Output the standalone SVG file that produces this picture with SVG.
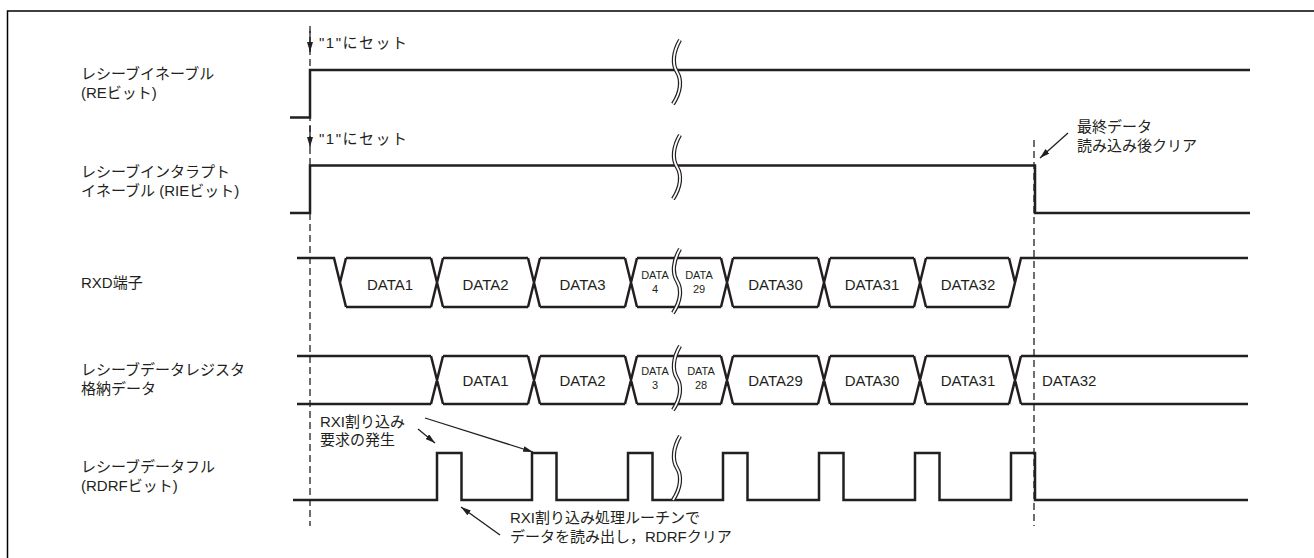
<svg xmlns="http://www.w3.org/2000/svg" width="1314" height="558" viewBox="0 0 1314 558">
<style>
text{font-family:"Liberation Sans","Noto Sans CJK JP",sans-serif;font-size:15px;fill:#231f20}
.sm{font-size:11px}
.mid{text-anchor:middle}
.ls{letter-spacing:1.5px}
.sig{fill:none;stroke:#231f20;stroke-width:2.5;stroke-linejoin:miter}
.dash{fill:none;stroke:#231f20;stroke-width:1.3;stroke-dasharray:7 4}
.arr{fill:none;stroke:#231f20;stroke-width:1.3;marker-end:url(#ah)}
.brk{fill:none;stroke:#231f20;stroke-width:4.2}
.brkw{fill:none;stroke:#fff;stroke-width:1.8}
</style>
<defs>
<marker id="ah" viewBox="0 0 10 6" refX="10" refY="3" markerWidth="10" markerHeight="6" orient="auto" markerUnits="userSpaceOnUse"><path d="M0,0 L10,3 L0,6 z" fill="#231f20"/></marker>
<path id="brkp" d="M3,-32 C-4,-20 -5,-8 0,0 C5,8 4,20 -4,32"/>
</defs>
<rect width="1314" height="558" fill="#fff"/>
<g id="frame"><path d="M7.5,558 V11 H1314" fill="none" stroke="#000" stroke-width="1.5"/></g>

<g id="guides">
<line class="dash" x1="310" y1="26" x2="310" y2="526"/>
<line class="dash" x1="1034" y1="140" x2="1034" y2="526"/>
</g>

<g id="re-bit">
<text x="81" y="79">レシーブイネーブル</text>
<text x="81" y="98">(REビット)</text>
<path class="sig" d="M290,117.5 H310 V70 H1250"/>
<text class="ls" x="319" y="48">"1"にセット</text>
</g>

<g id="rie-bit">
<text x="81" y="177">レシーブインタラプト</text>
<text x="81" y="196">イネーブル (RIEビット)</text>
<path class="sig" d="M290,213 H310 V165.5 H1035 V213 H1250"/>
<text class="ls" x="319" y="143.5">"1"にセット</text>
<text x="1077" y="132">最終データ</text>
<text x="1077" y="151">読み込み後クリア</text>
</g>

<g id="rxd">
<text x="81" y="288">RXD端子</text>
<path class="sig" d="M297,258 H334 L346,307 M346,258 L340,282.5 M346,258 H431 M346,307 H431
M431,258 L443,307 M431,307 L443,258 M443,258 H528 M443,307 H528
M528,258 L540,307 M528,307 L540,258 M540,258 H625 M540,307 H625
M625,258 L637,307 M625,307 L637,258 M637,258 H721 M637,307 H721
M721,258 L733,307 M721,307 L733,258 M733,258 H818 M733,307 H818
M818,258 L830,307 M818,307 L830,258 M830,258 H914 M830,307 H914
M914,258 L926,307 M914,307 L926,258 M926,258 H1009 M926,307 H1009
M1009,258 L1015,282.5 M1009,307 L1021,258 H1248"/>
<text class="mid" x="390" y="290">DATA1</text>
<text class="mid" x="485.5" y="290">DATA2</text>
<text class="mid" x="582.5" y="290">DATA3</text>
<text class="mid sm" x="655" y="279">DATA</text>
<text class="mid sm" x="655" y="293">4</text>
<text class="mid sm" x="699" y="279">DATA</text>
<text class="mid sm" x="699" y="293">29</text>
<text class="mid" x="775.5" y="290">DATA30</text>
<text class="mid" x="872" y="290">DATA31</text>
<text class="mid" x="968" y="290">DATA32</text>
</g>

<g id="rdr">
<text x="81" y="375">レシーブデータレジスタ</text>
<text x="81" y="394">格納データ</text>
<path class="sig" d="M297,356 H431 M297,404 H431
M431,356 L443,404 M431,404 L443,356 M443,356 H528 M443,404 H528
M528,356 L540,404 M528,404 L540,356 M540,356 H625 M540,404 H625
M625,356 L637,404 M625,404 L637,356 M637,356 H721 M637,404 H721
M721,356 L733,404 M721,404 L733,356 M733,356 H818 M733,404 H818
M818,356 L830,404 M818,404 L830,356 M830,356 H914 M830,404 H914
M914,356 L926,404 M914,404 L926,356 M926,356 H1009 M926,404 H1009
M1009,356 L1021,404 M1009,404 L1021,356 M1021,356 H1248 M1021,404 H1248"/>
<text class="mid" x="485.5" y="386">DATA1</text>
<text class="mid" x="582.5" y="386">DATA2</text>
<text class="mid sm" x="655" y="375">DATA</text>
<text class="mid sm" x="655" y="389">3</text>
<text class="mid sm" x="701" y="375">DATA</text>
<text class="mid sm" x="701" y="389">28</text>
<text class="mid" x="775.5" y="386">DATA29</text>
<text class="mid" x="872" y="386">DATA30</text>
<text class="mid" x="968" y="386">DATA31</text>
<text x="1042" y="386">DATA32</text>
</g>

<g id="rdrf">
<text x="81" y="472">レシーブデータフル</text>
<text x="81" y="491">(RDRFビット)</text>
<path class="sig" d="M293,500 H437 V453 H461.5 V500 H532 V453 H556.5 V500 H628 V453 H652.5 V500 H723 V453 H747.5 V500 H819 V453 H843.5 V500 H915 V453 H939.5 V500 H1011 V453 H1035 V500 H1248"/>
<text x="320" y="427">RXI割り込み</text>
<text x="320" y="445">要求の発生</text>
<text x="510" y="523">RXI割り込み処理ルーチンで</text>
<text x="510" y="542">データを読み出し，RDRFクリア</text>
</g>

<g id="breaks">
<use href="#brkp" class="brk" transform="translate(677,72)"/>
<use href="#brkp" class="brkw" transform="translate(677,72)"/>
<use href="#brkp" class="brk" transform="translate(677,167)"/>
<use href="#brkp" class="brkw" transform="translate(677,167)"/>
<use href="#brkp" class="brk" transform="translate(677,281)"/>
<use href="#brkp" class="brkw" transform="translate(677,281)"/>
<use href="#brkp" class="brk" transform="translate(677,378)"/>
<use href="#brkp" class="brkw" transform="translate(677,378)"/>
<use href="#brkp" class="brk" transform="translate(677,468)"/>
<use href="#brkp" class="brkw" transform="translate(677,468)"/>
</g>

<g id="connectors">
<line class="arr" x1="310" y1="31" x2="310" y2="52"/>
<line class="arr" x1="310" y1="126" x2="310" y2="147"/>
<line class="arr" x1="1068" y1="133" x2="1040" y2="158"/>
<line class="arr" x1="418" y1="429" x2="435" y2="443"/>
<line class="arr" x1="425" y1="418" x2="533" y2="452"/>
<line class="arr" x1="500" y1="535" x2="461" y2="507"/>
</g>
</svg>
